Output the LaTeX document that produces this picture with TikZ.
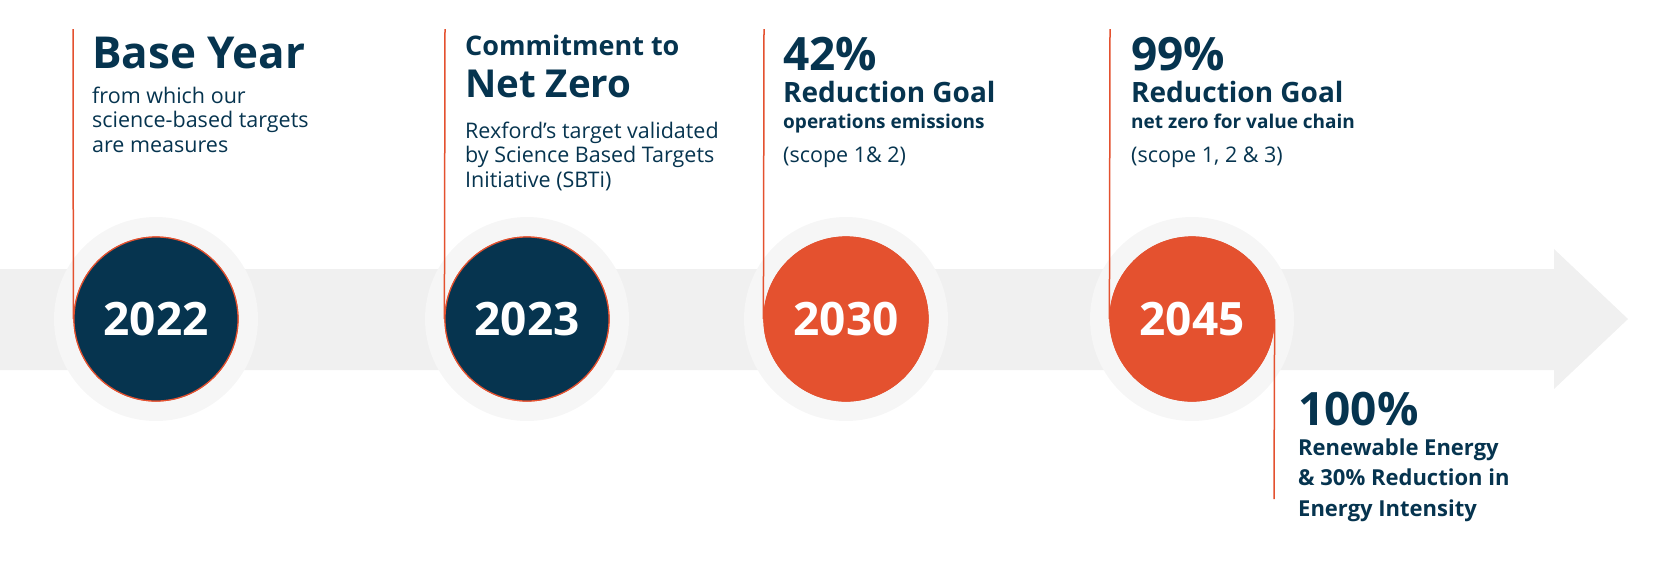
\documentclass[tikz,border=0pt]{standalone}
\usepackage{fontspec}
\setmainfont{Open Sans}
\usetikzlibrary{positioning}
\definecolor{navy}{HTML}{06344F}
\definecolor{rust}{HTML}{E4512F}
\definecolor{bandgray}{HTML}{F0F0F0}
\definecolor{halogray}{HTML}{F6F6F6}
\tikzset{
  year/.style={circle, draw=rust, line width=1.2pt, minimum size=164pt,
               inner sep=0pt, text=white,
               font=\bfseries\fontsize{46}{46}\selectfont},
  past/.style={year, fill=navy},
  goal/.style={year, fill=rust},
  glow/.style={circle, fill=halogray, minimum size=204pt, inner sep=0pt},
  tick/.style={draw=rust, line width=1.5pt},
  txt/.style={anchor=base west, inner sep=0pt, text=navy, align=left},
  huge/.style={txt, font=\bfseries\fontsize{44}{44}\selectfont},
  mid/.style={txt, font=\bfseries\fontsize{38.5}{38.5}\selectfont},
  sub/.style={txt, font=\bfseries\fontsize{28}{28}\selectfont},
  note/.style={txt, font=\bfseries\fontsize{19}{22}\selectfont},
  body/.style={txt, font=\fontsize{21.5}{24.5}\selectfont},
  list/.style={txt, font=\bfseries\fontsize{22}{30.5}\selectfont},
}

\begin{document}
\begin{tikzpicture}[x=1pt, y=-1pt]
  \useasboundingbox (0,0) rectangle (1653,579);

  % timeline band
  \fill[bandgray] (0,269) -- (1554,269) -- (1554,249) -- (1628,319)
    -- (1554,389) -- (1554,370) -- (0,370) -- cycle;

  \foreach \x in {156,527,846,1192}
    \node[glow] at (\x,319) {};

  % leader lines
  \coordinate (t2022) at (73,29);
  \coordinate (t2023) at (445,29);
  \coordinate (t2030) at (764,29);
  \coordinate (t2045) at (1110,29);
  \coordinate (b2045) at (1274,499);

  \node[past] (c2022) at (156,319) {};
  \node[past] (c2023) at (527,319) {};
  \node[goal] (c2030) at (846,319) {};
  \node[goal] (c2045) at (1192,319) {};

  \draw[tick] (t2022) -- (c2022.west);
  \draw[tick] (t2023) -- (c2023.west);
  \draw[tick] (t2030) -- (c2030.west);
  \draw[tick] (t2045) -- (c2045.west);
  \draw[tick] (c2045.east) -- (b2045);

  \node[past] at (c2022) {2022};
  \node[past] at (c2023) {2023};
  \node[goal] at (c2030) {2030};
  \node[goal] at (c2045) {2045};

  % base year (multi-line nodes sit on their last baseline)
  \node[huge] (base) at (92,68) {Base Year};
  \node[body] (basetxt) at (92,152) {from which our\\science-based targets\\are measures};

  % net zero
  \node[sub, font=\bfseries\fontsize{27}{27}\selectfont] (commit) at (465,55) {Commitment to};
  \node[mid] (netzero) at (465,97) {Net Zero};
  \node[body] (sbti) at (465,187) {Rexford’s target validated\\by Science Based Targets\\Initiative (SBTi)};

  % 2030 goal
  \node[huge, font=\bfseries\fontsize{46}{46}\selectfont] (p42) at (783,70) {42\%};
  \node[sub] (goal42) at (783,102) {Reduction Goal};
  \node[note] (ops) at (783,128) {operations emissions};
  \node[body] (scope12) at (783,162) {(scope 1\& 2)};

  % 2045 goal
  \node[huge, font=\bfseries\fontsize{46}{46}\selectfont] (p99) at (1131,70) {99\%};
  \node[sub] (goal99) at (1131,102) {Reduction Goal};
  \node[note] (chain) at (1131,128) {net zero for value chain};
  \node[body] (scope123) at (1131,162) {(scope 1, 2 \& 3)};

  % renewables
  \node[huge, font=\bfseries\fontsize{46}{46}\selectfont] (p100) at (1298,425) {100\%};
  \node[list] (energy) at (1298,516) {Renewable Energy\\\& 30\% Reduction in\\Energy Intensity};
\end{tikzpicture}
\end{document}
